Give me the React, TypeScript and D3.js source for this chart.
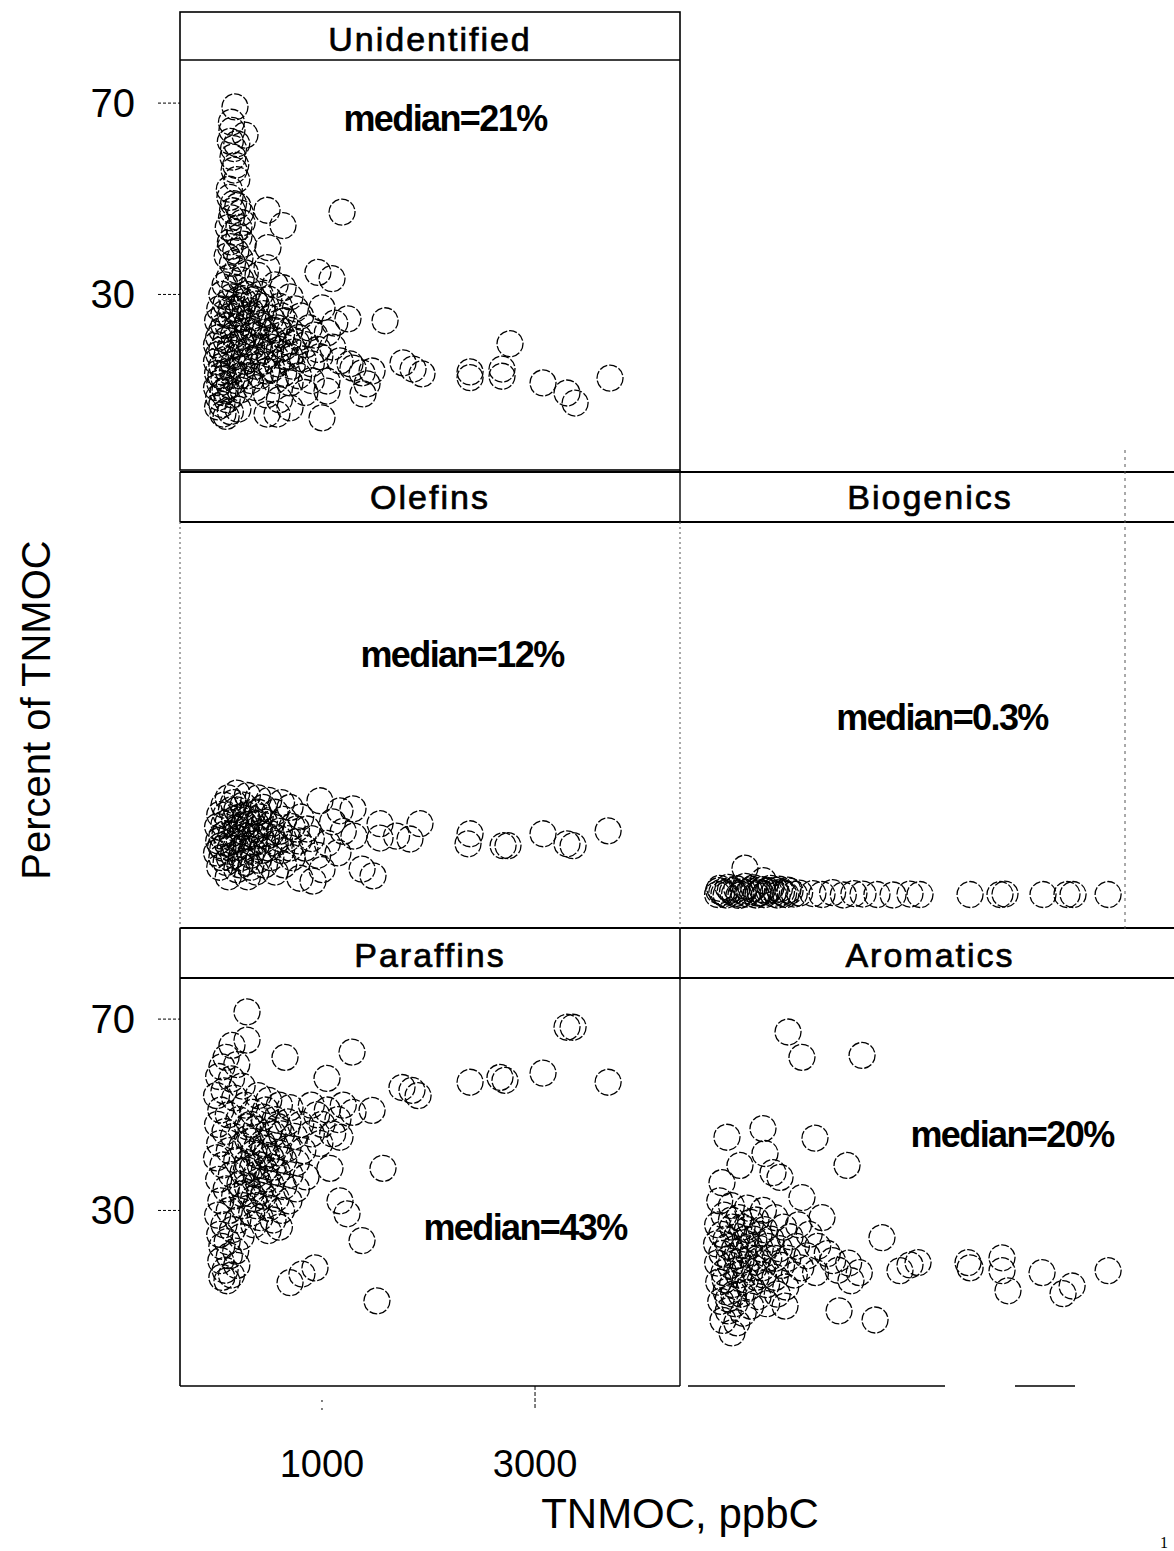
import React from 'react';
import * as d3 from 'd3';

// ---------- data (TNMOC ppbC, percent of TNMOC) ----------
const unidentified: [number, number][] = [
  [183,69.2],[155,64.3],[277,63.3],[140,62],[200,61.5],[164,58.7],[190,57],[175,56],[136,50.3],[170,49],
  [210,48.5],[235,47],[150,46],[250,45],[120,44],[180,43],[220,42],[140,41],[260,40.5],[190,39],
  [110,38],[230,37.5],[160,36.5],[200,35],[280,34.5],[130,33.5],[240,33],[90,32],[180,31.5],[310,31],
  [60,30],[150,29.5],[220,29],[270,28.5],[100,28],[40,27],[190,27],[330,26.5],[80,26],[140,25.5],
  [250,25],[20,24.5],[300,24],[120,23.5],[200,23],[60,22.5],[360,22],[170,21.5],[30,21],[260,21],
  [100,20.5],[320,20],[10,19.5],[200,19.5],[140,19],[60,18.5],[280,18],[30,17.5],[220,17],[100,16.5],
  [350,16.5],[10,16],[170,15.5],[60,15],[250,14.5],[120,14],[20,13.5],[300,13],[80,12.5],[190,12],
  [40,11.5],[130,11],[10,10.5],[230,10],[70,9.5],[160,9],[30,8.5],[110,8],[60,7],[211,6],[20,6.5],
  [140,5.5],[70,5],[100,4.5],
  [400,34],[484,35.6],[493,39.8],[484,47.6],[634,44.4],[634,31.4],[560,32],[420,30],[500,29],[700,29.5],
  [380,28],[600,27.5],[450,26],[750,27],[520,25],[650,24.5],[800,25.5],[400,24],[580,23],[700,22.5],
  [880,23],[460,22],[620,21.5],[780,21],[930,21.5],[540,20.5],[680,20],[850,19.5],[400,19],[600,18.5],
  [740,18],[960,18.5],[500,17.5],[660,17],[820,16.5],[450,16],[580,15.5],[720,15],[900,15.5],[530,14.5],
  [640,13.5],[780,13],[420,13],[560,12],[700,11.5],[380,10.5],[480,9],[600,8],[577,5],[484,5],[700,6.3],
  [840,9.5],[900,12],
  [962,34.6],[1094,33.3],[1000,27.2],[1244,24.9],[1592,24.5],[1047,11.9],[1047,9.8],[1000,4.2],[1169,16.1],
  [1263,15.5],[1291,14.6],[1376,13.6],[1423,11.3],[1470,14],[1385,9.2],[1188,47.2],[1761,15.7],[1855,14.4],
  [1939,13.4],[2390,13.8],[2390,12.6],[2690,14.4],[2690,12.9],[2765,19.7],[3075,11.5],[3300,9.4],[3376,7.3],
  [3704,12.5],[1050,22],[1100,19],[980,17],[1120,24],
  [250,27.5],[350,25.5],[430,23.5],[300,22.5],[380,21.5],[480,20.5],[240,20],[340,19],[420,18],[520,19],
  [280,16],[380,15],[480,14],[230,13],[330,12],[550,22.5],[620,25.5],[700,17],[760,20],[650,19],
  [150,27],[80,23.5],[110,17.5],[50,13],[90,10],[160,14],[210,26],[290,30],[360,29],[440,27.5],
  [160,47.5],[130,52],[220,44],[200,54],[140,40],[170,60.5],[150,66]
];

const olefins: [number, number][] = [
  [120,20.5],[200,21.5],[300,21],[400,20.5],[500,20],[620,19.5],[80,19],[260,19],[450,18.5],[700,18.5],
  [150,18],[350,17.5],[560,17.5],[40,17],[230,16.5],[420,16.5],[640,16],[800,16.5],[120,15.5],[320,15],
  [520,15],[720,14.5],[20,14.5],[200,14],[400,14],[600,13.5],[860,14],[90,13],[280,12.5],[480,12.5],
  [680,12],[30,11.5],[160,11.5],[360,11],[560,11],[780,11.5],[900,12],[70,10],[250,10],[440,9.5],
  [620,9.5],[840,10],[10,9],[170,8.5],[330,8.5],[520,8],[720,8],[960,8.5],[100,7],[280,7],
  [460,6.5],[640,6.5],[40,6],[200,5.5],[380,5],[560,5],[120,4],[300,4],[793,3.7],[916,3.1],[1000,5.5],
  [60,12.5],[140,10],[220,12],[340,13],[440,11.5],[520,13],[180,16],[290,17],[380,15],[460,15.5],
  [60,8],[240,8],[400,7.5],[600,12],[700,10],[760,14],
  [100,17],[200,18],[300,16],[150,13],[250,14.5],[350,9.5],[190,10],[290,10.5],[80,15],[130,8],
  [420,13],[500,10],[230,6.5],[330,6],[50,10.5],[110,11],[270,15],[370,12.5],[170,19.5],[400,17.5],
  [981,19.9],[1169,17.8],[1291,18.2],[1100,15.5],[1200,13.5],[1050,11],[1150,9],[1300,12.5],[1545,15.1],
  [1545,12.1],[1376,5.6],[1479,4.2],[1826,11.9],[1920,15.1],[1700,12.5],[2390,13],[2371,10.9],[2700,10.5],
  [2746,10.5],[3075,13],[3300,10.9],[3357,10.5],[3686,13.6]
];

const biogenics: [number, number][] = [
  [20,0.3],[60,0.8],[100,0.2],[140,1.2],[180,0.5],[220,0.1],[260,0.9],[300,0.4],[340,1.4],[380,0.2],
  [420,0.7],[460,0.3],[500,1.1],[540,0.5],[580,0.2],[620,0.8],[660,0.3],[700,1.0],[740,0.4],[790,0.6],
  [40,1.6],[120,1.8],[200,1.5],[280,2],[360,1.7],[440,1.3],[520,1.6],[600,1.4],[680,1.2],[277,5.8],
  [450,3.2],[80,0.5],[160,0.9],[240,0.3],[320,1.0],[400,0.6],[480,0.9],[560,1.2],[640,0.5],[30,1.1],
  [915,0.5],[1000,0.3],[1100,0.7],[1200,0.2],[1300,0.5],[1385,0.4],[1516,0.3],[1667,0.2],
  [1826,0.4],[1920,0.3],[2390,0.3],[2671,0.3],[2718,0.4],[3075,0.3],[3300,0.3],[3357,0.3],[3686,0.3]
];

const paraffins: [number, number][] = [
  [155,64.5],[296,65.6],[296,71.5],[100,62],[60,60],[200,60.5],[30,58],[150,57.5],[250,56],[80,55],
  [10,54],[180,53.5],[280,52],[50,51],[120,50],[220,49],[20,48],[300,47.5],[90,46.5],[170,45.5],
  [40,44],[250,43.5],[130,42.5],[10,41],[200,40.5],[70,39.5],[290,38.5],[150,37.5],[30,36.5],[230,35.5],
  [100,34.5],[180,33],[50,32],[260,31],[130,30],[20,29],[210,28],[80,27],[160,26],[40,25],
  [240,24.5],[110,23.5],[60,22.5],[190,21.5],[130,20.5],[50,19.5],[200,18.5],[90,17.5],[150,16.5],[108,15.3],
  [60,16],
  [400,54],[500,53],[600,52],[700,51.5],[350,50.5],[450,49.5],[560,49],[680,48.5],[800,48],[380,47],
  [500,46.5],[620,46],[740,45.5],[900,46],[330,44.5],[440,44],[560,43.5],[680,43],[820,42.5],[400,41.5],
  [520,41],[640,40.5],[760,40],[350,39],[460,38.5],[580,38],[700,37.5],[850,37],[400,36],[520,35.5],
  [640,35],[760,34.5],[330,33.5],[450,33],[570,32.5],[690,32],[380,31],[500,30.5],[620,30],[420,28.5],
  [540,28],[493,25.8],[360,27],[600,26.5],[950,50],[1000,48],[1050,51],[900,52],[1100,46],[980,44],
  [300,45],[360,42],[420,39.5],[480,36.5],[300,40],[380,37.5],[460,43],[540,46],[300,35],[360,32.5],
  [420,34],[480,41.5],[540,39],[600,42],[260,38],[330,48],[470,51],[590,47.5],[250,33.5],[340,29.5],
  [653,62],[1282,63.1],[1047,57.6],[1751,55.7],[1845,55.1],[1902,54],[2390,56.8],[2671,57.8],[2718,57.2],
  [3075,58.7],[3300,68.3],[3357,68.3],[3686,56.8],[1470,50.9],[1291,50.5],[1573,38.8],[1169,45.3],[1075,38.8],
  [1169,32],[1235,29.3],[1376,23.7],[700,14.9],[812,16.7],[934,18],[1516,11.1],[1200,52],[1150,49]
];

const aromatics: [number, number][] = [
  [681,67.3],[812,62],[1376,62.4],[108,45.3],[446,47.1],[934,45.1],[230,39.4],[465,41.9],[1235,39.4],
  [540,37.9],[606,36.9],[61,35.8],[812,32.7],[1563,24.3],[1000,28.5],[1732,17.4],[1826,18.6],[1902,19.1],
  [2371,19.1],[2390,18],[2690,20.1],[2690,17.4],[2746,13.2],[3066,17],[3348,14.2],[3263,12.6],[3686,17.4],
  [1498,7.1],[1160,9],[1272,15.3],[653,10],[155,4.4],
  [40,32],[150,31],[300,30.5],[450,30],[80,29],[220,28.5],[380,28],[560,28.5],[20,27],[160,26.5],
  [300,26],[460,26],[640,26.5],[780,27],[60,25],[200,24.5],[360,24],[520,24],[700,24.5],[880,25],
  [10,23],[120,22.5],[260,22],[420,22],[600,22],[760,22.5],[960,22.5],[60,21],[200,20.5],[340,20],
  [500,20],[680,20],[860,20.5],[1050,21],[20,19],[140,18.5],[280,18],[440,18],[620,18.5],[800,18],
  [1100,19.5],[80,17],[220,16.5],[380,16],[560,16],[740,16.5],[940,17],[30,15],[160,14.5],[320,14],
  [480,14.5],[660,14],[100,13],[240,12.5],[400,12],[580,12.5],[50,11],[180,10.5],[330,10],[480,10.5],
  [120,9],[260,8.5],[70,7],[200,6.5],[1150,17.5],[1250,19],[1350,17],
  [100,24],[180,22],[240,19.5],[320,22.5],[400,20],[130,20],[200,17.5],[280,15.5],[360,18],[450,16.5],
  [90,15.5],[170,12.5],[250,26.5],[330,27.5],[410,25],[150,28],[280,24],[490,22.5],[560,20],[120,11.5]
];

const panelTitles = ['Unidentified', 'Olefins', 'Biogenics', 'Paraffins', 'Aromatics'];
const panelMedians = ['median=21%', 'median=12%', 'median=0.3%', 'median=43%', 'median=20%'];
const panelData = [unidentified, olefins, biogenics, paraffins, aromatics];
const yTicks = [30, 70];
const xTicks = [1000, 3000];
const xDomain: [number, number] = [-333, 4361];
const yDomain: [number, number] = [-6.7, 78.8];

// ---------- layout ----------
const W = 1174, H = 1551;
const colX = [180, 680];
const colW = 500;
const rowTop = [12, 470, 928];
const stripH = 49;
const panelH = 409;
const FONT = "'Liberation Sans', Arial, Helvetica, sans-serif";
const panelPos = [
  { row: 0, col: 0, mx: 445, my: 131 },
  { row: 1, col: 0, mx: 462, my: 667 },
  { row: 1, col: 1, mx: 942, my: 730 },
  { row: 2, col: 0, mx: 525, my: 1240 },
  { row: 2, col: 1, mx: 1012, my: 1147 },
];

export default function App() {
  const x = d3.scaleLinear().domain(xDomain).range([0, colW]);
  const y = d3.scaleLinear().domain(yDomain).range([panelH, 0]);
  const bottom = rowTop[2] + stripH + panelH;

  return (
    <svg width={W} height={H} style={{ position: 'absolute', left: 0, top: 0, background: '#fff' }}>
      <rect width={W} height={H} fill="#fff" />

      {/* frames */}
      <g stroke="#000" fill="none">
        <rect x={180} y={rowTop[0]} width={500} height={458} strokeWidth={1.6} />
        <line x1={180} x2={680} y1={rowTop[0] + stripH - 1} y2={rowTop[0] + stripH - 1} strokeWidth={1.4} />
        {[rowTop[1] + 2, rowTop[1] + 2 + 50, rowTop[2], rowTop[2] + 50].map((yy, i) => (
          <line key={i} x1={180} x2={W} y1={yy} y2={yy} strokeWidth={1.8} />
        ))}
        <line x1={180} x2={180} y1={rowTop[1] + 2} y2={rowTop[1] + 52} strokeWidth={1.4} />
        <line x1={180} x2={180} y1={rowTop[1] + 52} y2={rowTop[2]} strokeWidth={1} strokeDasharray="2,3" stroke="#555" />
        <line x1={680} x2={680} y1={rowTop[1] + 52} y2={rowTop[2]} strokeWidth={1} strokeDasharray="2,3" stroke="#555" />
        <line x1={680} x2={680} y1={rowTop[1]} y2={rowTop[1] + 52} strokeWidth={1.4} />
        <line x1={1125} x2={1125} y1={450} y2={930} strokeWidth={1} strokeDasharray="3,4" stroke="#555" />
        <line x1={180} x2={180} y1={rowTop[2]} y2={bottom} strokeWidth={1.6} />
        <line x1={680} x2={680} y1={rowTop[2]} y2={rowTop[2] + 52} strokeWidth={1.6} />
        <line x1={180} x2={680} y1={bottom} y2={bottom} strokeWidth={1.6} />
        <line x1={680} x2={680} y1={rowTop[2] + 52} y2={bottom} strokeWidth={1.4} />
        <line x1={688} x2={945} y1={bottom} y2={bottom} strokeWidth={1.4} />
        <line x1={1015} x2={1075} y1={bottom} y2={bottom} strokeWidth={1.4} />
      </g>

      {/* panels */}
      {panelData.map((data, i) => {
        const p = panelPos[i];
        const px = colX[p.col];
        const py = rowTop[p.row] + stripH;
        return (
          <g key={i}>
            <text x={px + colW / 2} y={rowTop[p.row] + 39} textAnchor="middle" fontFamily={FONT}
              fontSize={34} letterSpacing={2} stroke="#000" strokeWidth={0.7}>{panelTitles[i]}</text>
            <g transform={`translate(${px},${py})`}>
              {data.map((d, j) => (
                <circle key={j} cx={x(d[0])} cy={y(d[1])} r={13} fill="none" stroke="#000"
                  strokeWidth={1.3} strokeDasharray="8,2" />
              ))}
            </g>
            <text x={p.mx} y={p.my} textAnchor="middle" fontFamily={FONT} fontWeight="bold"
              fontSize={36} letterSpacing={-1.6}>{panelMedians[i]}</text>
          </g>
        );
      })}

      {/* y axes on rows 1 and 3 */}
      {[0, 2].map((r) => (
        <g key={r} transform={`translate(180,${rowTop[r] + stripH})`}>
          {yTicks.map((t) => (
            <g key={t}>
              <line x1={-22} x2={0} y1={y(t)} y2={y(t)} stroke="#000" strokeWidth={1} strokeDasharray="3,2" />
              <text x={-45} y={y(t) + 14} textAnchor="end" fontFamily={FONT} fontSize={40}>{t}</text>
            </g>
          ))}
        </g>
      ))}

      {/* x axis */}
      <g transform={`translate(180,${bottom})`}>
        {xTicks.map((t) => (
          <g key={t}>
            <line x1={x(t)} x2={x(t)} y1={t === 1000 ? 14 : 0} y2={24} stroke="#000" strokeWidth={1} strokeDasharray={t === 1000 ? '2,6' : '4,2'} />
            <text x={x(t)} y={91} textAnchor="middle" fontFamily={FONT} fontSize={38}>{t}</text>
          </g>
        ))}
      </g>

      <text x={680} y={1528} textAnchor="middle" fontFamily={FONT} fontSize={42}>TNMOC, ppbC</text>
      <text transform="translate(50,710) rotate(-90)" textAnchor="middle" fontFamily={FONT} fontSize={40}>Percent of TNMOC</text>
      <text x={1160} y={1548} fontFamily="serif" fontSize={16}>1</text>
    </svg>
  );
}
